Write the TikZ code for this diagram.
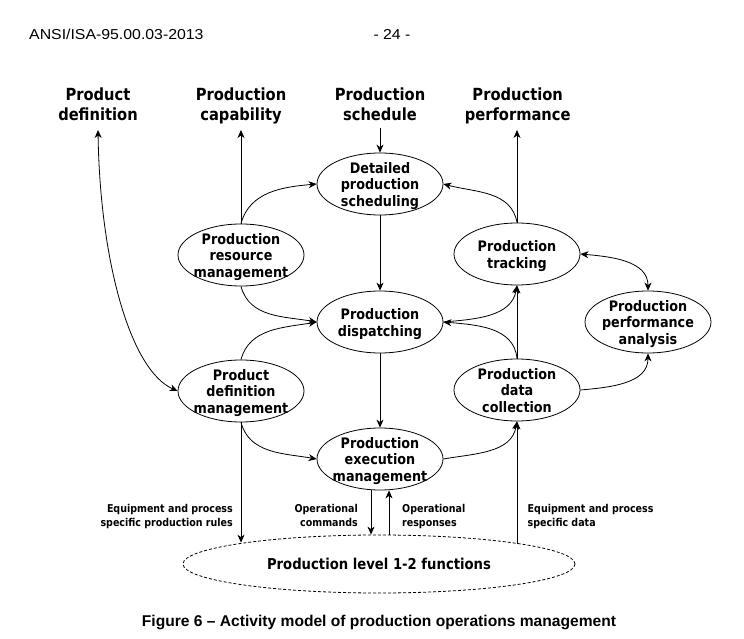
\documentclass[tikz,border=0pt]{standalone}
\usepackage{fontspec}
\usetikzlibrary{shapes.geometric,arrows.meta}
\newfontfamily\dvs[FakeStretch=0.88]{DejaVu Sans}
\newfontfamily\lib{Liberation Sans}
\newfontfamily\libx[FakeStretch=1.1]{Liberation Sans}
\begin{document}
\begin{tikzpicture}[x=1pt,y=1pt,
  ell/.style={ellipse,draw,line width=0.8pt,minimum width=126pt,minimum height=62pt,inner sep=0pt},
  etext/.style={font=\dvs\bfseries\fontsize{14.5}{16.7}\selectfont,align=center,inner sep=0pt,anchor=north},
  toplab/.style={font=\dvs\bfseries\fontsize{16.7}{19.5}\selectfont,align=center,inner sep=0pt,anchor=north},
  small/.style={font=\dvs\bfseries\fontsize{10.8}{14.3}\selectfont,inner sep=0pt},
  conn/.style={line width=0.8pt,-{Stealth[length=8pt,width=7pt,inset=2.5pt]}},
  biconn/.style={line width=0.8pt,{Stealth[length=8pt,width=7pt,inset=2.5pt]}-{Stealth[length=8pt,width=7pt,inset=2.5pt]}}]
\fill[white] (0,0) rectangle (744,638);
\useasboundingbox (0,0) rectangle (744,638);
% header
\node[font=\libx\fontsize{14.4}{16}\selectfont,anchor=base west,inner sep=0pt] (hdr) at (29,598.7) {ANSI/ISA-95.00.03-2013};
\node[font=\libx\fontsize{14.4}{16}\selectfont,anchor=base,inner sep=0pt] (pg) at (392,598.7) {- 24 -};
% top labels
\node[toplab] (pd) at (98,550.2) {Product\\definition};
\node[toplab] (pc) at (241,550.2) {Production\\capability};
\node[toplab] (ps) at (380,550.2) {Production\\schedule};
\node[toplab] (pp) at (517.7,550.2) {Production\\performance};
\coordinate (pd-a) at (98,508);
\coordinate (pc-a) at (241,508);
\coordinate (ps-a) at (380,510);
\coordinate (pp-a) at (517,508);
% ellipses
\node[ell] (dps) at (380,454) {};
\node[etext] (dps-t) at (380,476.2) {Detailed\\production\\scheduling};
\node[ell] (prm) at (241,383) {};
\node[etext] (prm-t) at (241,405.2) {Production\\resource\\management};
\node[ell] (pt) at (517,384) {};
\node[etext] (pt-t) at (517,397.85) {Production\\tracking};
\node[ell] (dsp) at (380,316) {};
\node[etext] (dsp-t) at (380,329.85) {Production\\dispatching};
\node[ell] (ppa) at (648,316) {};
\node[etext] (ppa-t) at (648,338.2) {Production\\performance\\analysis};
\node[ell] (pdm) at (241,247) {};
\node[etext] (pdm-t) at (241,269.2) {Product\\definition\\management};
\node[ell] (pdc) at (517,248) {};
\node[etext] (pdc-t) at (517,270.2) {Production\\data\\collection};
\node[ell] (pem) at (380,179) {};
\node[etext] (pem-t) at (380,201.2) {Production\\execution\\management};
\node[ell,dash pattern=on 3pt off 2pt,minimum width=392pt,minimum height=58pt,
  font=\dvs\bfseries\fontsize{15}{18}\selectfont] (l12) at (379,74) {Production level 1-2 functions};
% small labels
\node[small,align=right,anchor=north east] (eq1) at (233,134.4) {Equipment and process\\specific production rules};
\node[small,align=right,anchor=north east] (oc) at (358,134.4) {Operational\\commands};
\node[small,align=left,anchor=north west] (or) at (402,134.4) {Operational\\responses};
\node[small,align=left,anchor=north west] (eq2) at (527.5,134.4) {Equipment and process\\specific data};
% connectors
\draw[biconn] (pd-a) .. controls (100,378) and (130,268) .. (pdm.west);
\draw[conn] (prm.north) -- (pc-a);
\draw[conn] (prm.north) to[out=75,in=185] (dps.west);
\draw[conn] (ps-a) -- (dps.north);
\draw[conn] (dps.south) -- (dsp.north);
\draw[conn] (prm.south) to[out=-75,in=170] (dsp.west);
\draw[conn] (pdm.north) to[out=75,in=190] (dsp.west);
\draw[conn] (dsp.south) -- (pem.north);
\draw[conn] (pdm.south) to[out=-75,in=170] (pem.west);
\draw[conn] (pdm.south) -- (pdm.south |- l12.171.3);
\draw[conn] ([xshift=-9pt]pem.south) -- ([xshift=-9pt]pem.south |- l12.north);
\draw[conn] ([xshift=9pt]pem.south |- l12.north) -- ([xshift=9pt]pem.south);
\draw[conn] (pdc.south |- l12.8.65) -- (pdc.south);
\draw[conn] (pem.east) to[out=10,in=-100] (pdc.south);
\draw[conn] (pdc.north) -- (pt.south);
\draw[conn] (pdc.north) to[out=95,in=-5] (dsp.east);
\draw[conn] (dsp.east) to[out=5,in=-100] (pt.south);
\draw[conn] (pt.north) -- (pp-a);
\draw[conn] (pt.north) to[out=100,in=-15] (dps.east);
\draw[biconn] (pt.east) to[out=-5,in=90] (ppa.north);
\draw[conn] (pdc.east) to[out=5,in=-90] (ppa.south);
% caption
\node[font=\lib\bfseries\fontsize{15.6}{18}\selectfont,anchor=base,inner sep=0pt] (cap) at (379,12) {Figure 6 – Activity model of production operations management};
\end{tikzpicture}
\end{document}
